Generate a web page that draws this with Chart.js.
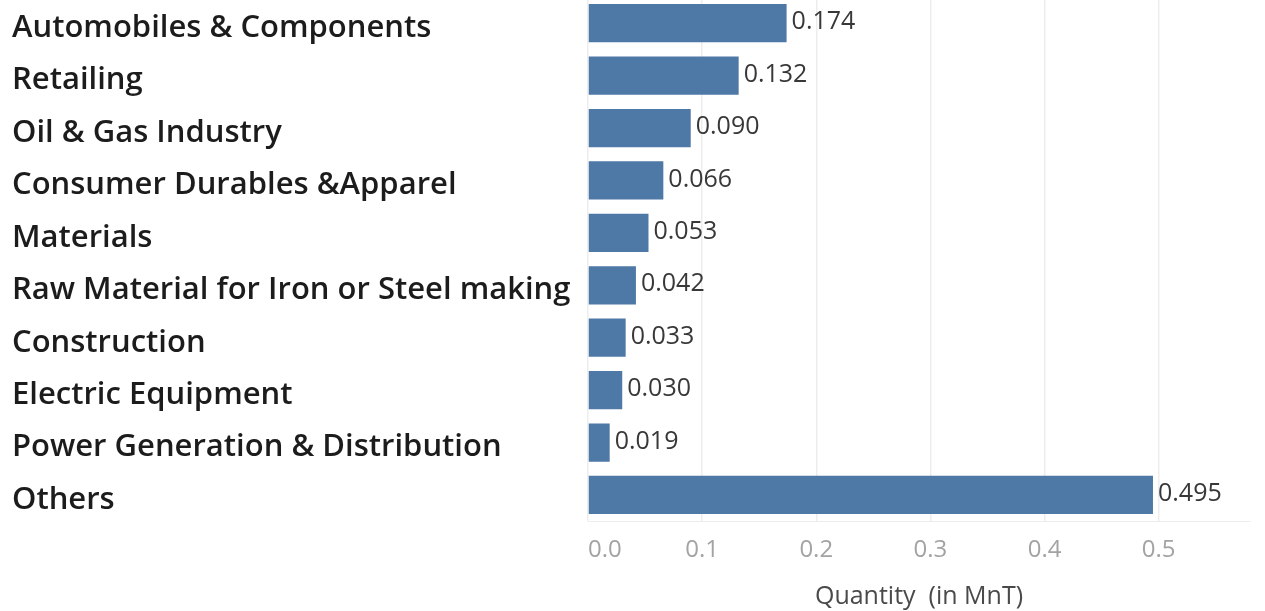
<!DOCTYPE html>
<html>
<head>
<meta charset="utf-8">
<script src="https://cdn.jsdelivr.net/npm/chart.js@4"></script>
<style>
  html, body { margin: 0; padding: 0; background: #fff; overflow: hidden; }
  canvas { display: block; margin-top: -3px; }
</style>
</head>
<body>
<canvas id="sectorChart" width="1265" height="616"></canvas>
<script>
const categories = [
  'Automobiles & Components',
  'Retailing',
  'Oil & Gas Industry',
  'Consumer Durables &Apparel',
  'Materials',
  'Raw Material for Iron or Steel making',
  'Construction',
  'Electric Equipment',
  'Power Generation & Distribution',
  'Others'
];
const quantities = [0.174, 0.132, 0.090, 0.066, 0.053, 0.042, 0.033, 0.030, 0.019, 0.495];
const xMax = 0.58;   // axis runs a bit past the last labelled tick
const xStep = 0.1;

// draws the value next to the end of each bar
const valueLabels = {
  id: 'valueLabels',
  afterDatasetsDraw(chart) {
    const ctx = chart.ctx;
    const meta = chart.getDatasetMeta(0);
    ctx.save();
    ctx.font = '25px "Open Sans", sans-serif';
    ctx.fillStyle = '#383838';
    ctx.textAlign = 'left';
    ctx.textBaseline = 'middle';
    meta.data.forEach((bar, i) => {
      ctx.fillText(quantities[i].toFixed(3), bar.x + 5, bar.y - 1);
    });
    ctx.restore();
  }
};

const isEdgeTick = (ctx) => ctx.index === ctx.scale.ticks.length - 1;

const sectorChart = new Chart(document.getElementById('sectorChart'), {
  type: 'bar',
  data: {
    labels: categories,
    datasets: [{
      label: 'Quantity (in MnT)',
      data: quantities,
      backgroundColor: '#4e79a7',
      categoryPercentage: 1,
      barPercentage: 0.73
    }]
  },
  options: {
    indexAxis: 'y',
    responsive: false,
    animation: false,
    layout: { padding: { left: 12, top: 0, right: 14, bottom: 0 } },
    plugins: {
      legend: { display: false },
      tooltip: { enabled: false }
    },
    scales: {
      y: {
        grid: { display: false, drawTicks: false },
        border: { display: false },
        afterFit(axis) {
          axis.width = 576;
          axis.paddingTop = 0;
          axis.paddingBottom = 0;
        },
        ticks: {
          crossAlign: 'far',
          padding: 0,
          labelOffset: 5,
          color: '#1c1c1c',
          font: { family: '"Open Sans", sans-serif', size: 31, weight: '600' }
        }
      },
      x: {
        min: 0,
        max: xMax,
        grid: {
          color: ctx => isEdgeTick(ctx) ? 'rgba(0,0,0,0)' : '#ededed',
          lineWidth: 1.5,
          drawTicks: false
        },
        border: { color: '#ededed' },
        ticks: {
          stepSize: xStep,
          align: 'inner',
          padding: 15,
          color: '#a3a3a3',
          font: { family: '"Open Sans", sans-serif', size: 24 },
          callback: (v, i, ticks) => i === ticks.length - 1 ? '' : v.toFixed(1)
        },
        title: {
          display: true,
          text: 'Quantity  (in MnT)',
          color: '#4a4a4a',
          padding: { top: 2, bottom: 1 },
          font: { family: '"Open Sans", sans-serif', size: 25 }
        }
      }
    }
  },
  plugins: [valueLabels]
});
</script>
</body>
</html>
